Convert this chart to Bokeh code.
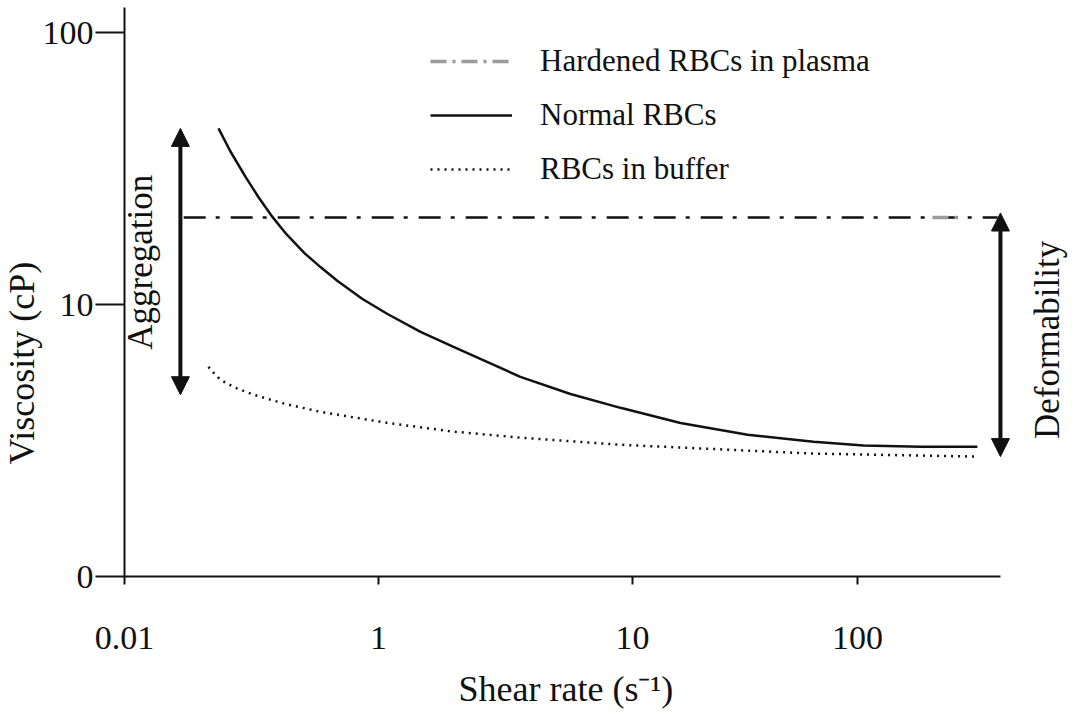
import math
from bokeh.plotting import figure
from bokeh.models import Range1d, FixedTicker, Label, Arrow, NormalHead, Legend, LegendItem, Title
from bokeh.embed import file_html
from bokeh.resources import INLINE

# ---- data ----
normal_x = [0.2345, 0.261, 0.300, 0.337, 0.383, 0.434, 0.511, 0.591, 0.690, 0.865, 1.085,
            1.464, 1.974, 3.62, 5.70, 8.97, 15.45, 28.4, 51.6, 81.2, 136, 228]
normal_y = [44.4, 36.6, 29.4, 24.8, 20.95, 18.14, 15.45, 13.73, 12.20, 10.48, 9.23,
            7.93, 6.98, 5.42, 4.69, 4.17, 3.67, 3.32, 3.13, 3.03, 3.00, 3.00]

buffer_x = [0.214, 0.226, 0.239, 0.2735, 0.322, 0.430, 0.591, 1.085, 1.97, 3.62, 8.97, 51.6, 228]
buffer_y = [5.90, 5.56, 5.28, 4.94, 4.66, 4.31, 4.03, 3.67, 3.41, 3.24, 3.05, 2.83, 2.76]

hardened_x = [0.171, 274]
hardened_y = [20.9, 20.9]
hardened_grey_x = [151.7, 195.5]
hardened_grey_y = [20.9, 20.9]

x_ticks = [0.1, 1, 10, 76.9]
x_tick_labels = ["0.01", "1", "10", "100"]
y_ticks = [1, 10, 100]
y_tick_labels = ["0", "10", "100"]

aggregation_x = 0.166
aggregation_span = [4.66, 44.4]
deformability_x = 281
deformability_span = [2.76, 21.7]

FONT = "Liberation Serif"
INK = "#111111"

p = figure(width=1072, height=724, x_axis_type="log", y_axis_type="log",
           x_range=Range1d(0.1, 540), y_range=Range1d(1, 123.6),
           output_backend="svg", toolbar_location=None,
           min_border_left=124, min_border_right=0, min_border_top=7, min_border_bottom=147)
p.outline_line_color = None
p.background_fill_color = "white"
p.xgrid.visible = False
p.ygrid.visible = False

# axes
p.xaxis.ticker = FixedTicker(ticks=x_ticks)
p.xaxis.major_label_overrides = {t: l for t, l in zip(x_ticks, x_tick_labels)}
p.xaxis.bounds = (0.1, 281)
p.yaxis.ticker = FixedTicker(ticks=y_ticks)
p.yaxis.major_label_overrides = {t: l for t, l in zip(y_ticks, y_tick_labels)}
for ax in (p.xaxis, p.yaxis):
    ax.axis_line_width = 2
    ax.axis_line_color = INK
    ax.major_tick_line_width = 2
    ax.major_tick_line_color = INK
    ax.minor_tick_line_color = None
    ax.major_tick_in = 0
    ax.major_label_text_font = FONT
    ax.major_label_text_font_size = "34px"
    ax.major_label_text_color = INK
p.xaxis.major_tick_out = 8
p.xaxis.major_label_standoff = 42
p.yaxis.major_tick_out = 29
p.yaxis.major_label_standoff = 2

p.add_layout(Title(text="Viscosity (cP)", align="left", offset=112, standoff=-4,
                   text_font=FONT, text_font_size="36px", text_font_style="normal",
                   text_color=INK), "left")
p.add_layout(Title(text="Shear rate (s\u207b\u00b9)", align="left", offset=334, standoff=31,
                   text_font=FONT, text_font_size="36px", text_font_style="normal",
                   text_color=INK), "below")

# curves
r_hard = p.line(hardened_x, hardened_y, line_color=INK, line_width=2.5, line_dash="22 10 4 11")
r_norm = p.line(normal_x, normal_y, line_color=INK, line_width=2.5)
r_buf = p.line(buffer_x, buffer_y, line_color=INK, line_width=2.5, line_dash="2 5")
r_hard_grey = p.line(hardened_grey_x, hardened_grey_y, line_color="#9a9a9a", line_width=3.5,
                     line_dash="16 6 3 6")

legend = Legend(items=[LegendItem(label="Hardened RBCs in plasma", renderers=[r_hard_grey]),
                       LegendItem(label="Normal RBCs", renderers=[r_norm]),
                       LegendItem(label="RBCs in buffer", renderers=[r_buf])],
                location=(306, 389), orientation="vertical",
                glyph_width=82, glyph_height=20, label_standoff=28, spacing=18,
                padding=0, margin=0, border_line_color=None, background_fill_alpha=0,
                label_text_font=FONT, label_text_font_size="31px", label_text_color=INK)
p.add_layout(legend)

# arrows
for ax_x, span in ((aggregation_x, aggregation_span), (deformability_x, deformability_span)):
    p.add_layout(Arrow(x_start=ax_x, y_start=span[0], x_end=ax_x, y_end=span[1],
                       line_width=4, line_color=INK,
                       start=NormalHead(size=18, fill_color=INK, line_color=INK),
                       end=NormalHead(size=18, fill_color=INK, line_color=INK)))

# text labels
def add_text(x, y, text, size="35px"):
    p.add_layout(Label(x=x, y=y, text=text, angle=math.pi / 2, text_align="center",
                       text_baseline="middle", text_font=FONT, text_font_size=size,
                       text_color=INK))

add_text(0.1160, 14.3, "Aggregation")
add_text(430, 7.41, "Deformability")

open("out.html", "w").write(file_html(p, INLINE))
